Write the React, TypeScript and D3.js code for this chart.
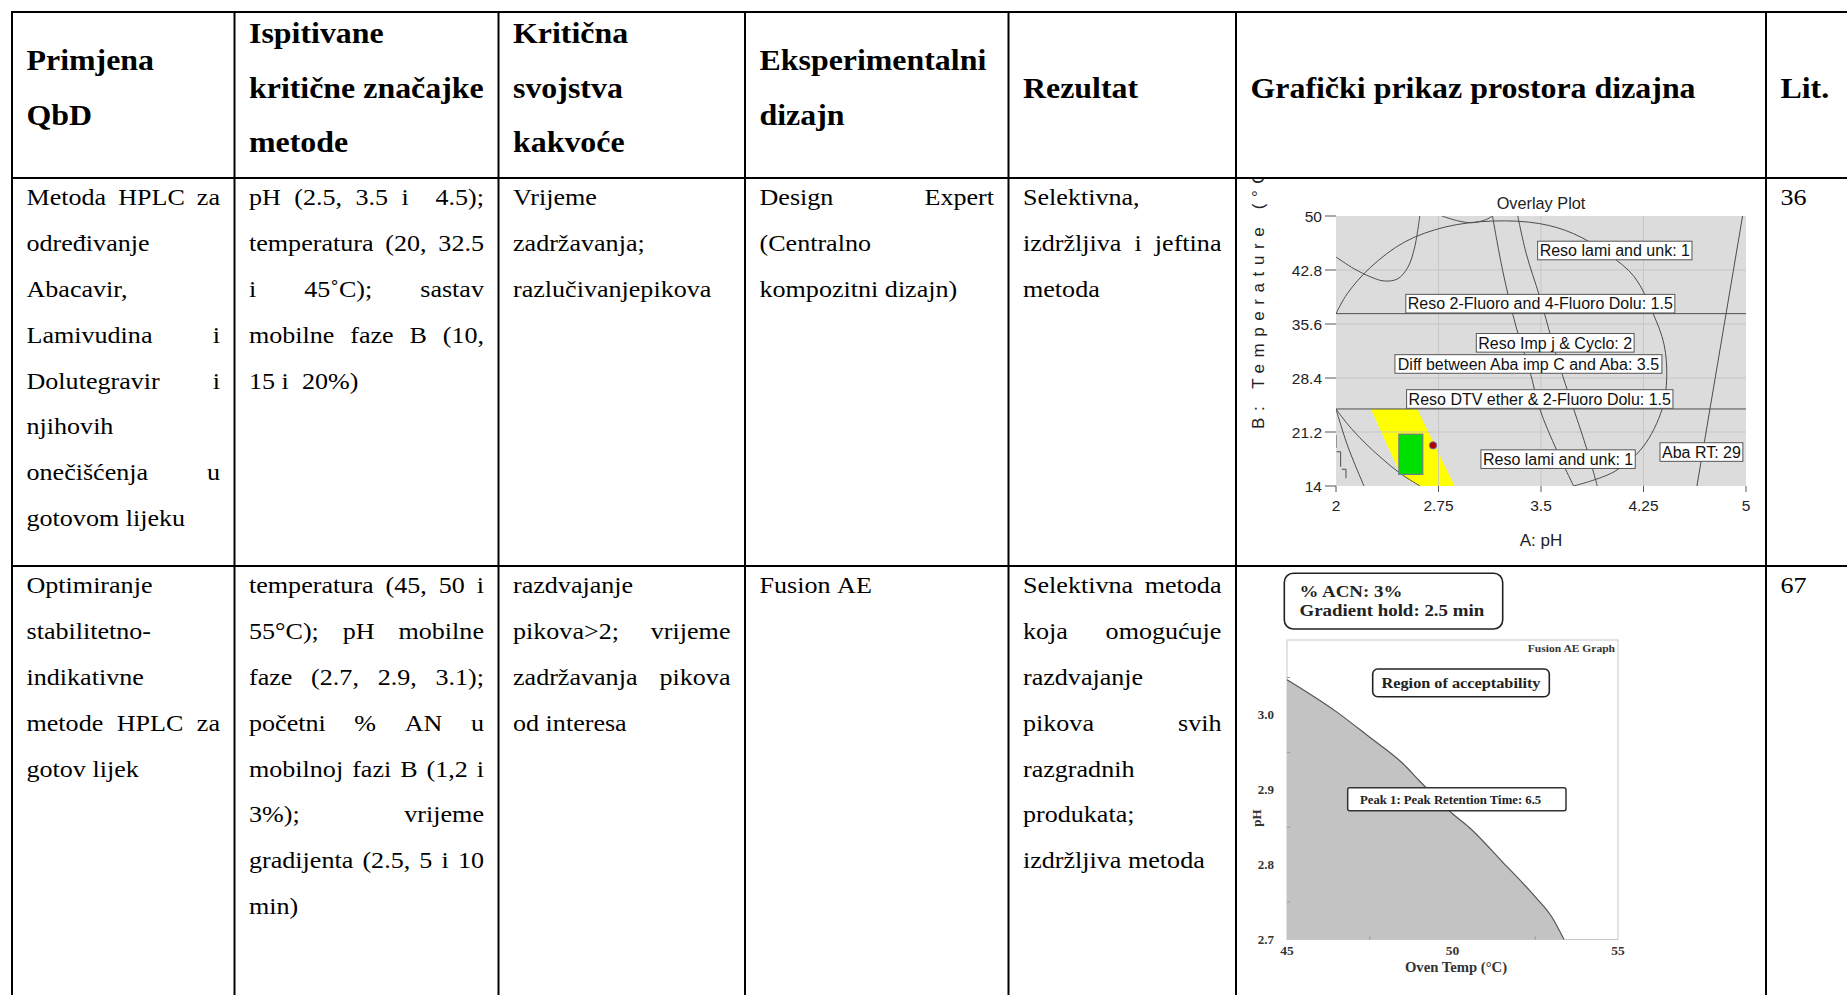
import React from "react";
import * as d3 from "d3";

const W = 1847;
const H = 995;

// ---- table layout ----
const colEdges = [12, 234.5, 498.5, 745, 1008.5, 1236, 1766];
const rowEdges = [12, 178, 566];

const headers = [
  ["Primjena", "QbD"],
  ["Ispitivane", "kritične značajke", "metode"],
  ["Kritična", "svojstva", "kakvoće"],
  ["Eksperimentalni", "dizajn"],
  ["Rezultat"],
  ["Grafički prikaz prostora dizajna"],
  ["Lit."],
];

const row1 = [
  ["Metoda HPLC za", "određivanje", "Abacavir,", "Lamivudina i", "Dolutegravir i", "njihovih", "onečišćenja u", "gotovom lijeku"],
  ["pH (2.5, 3.5 i  4.5);", "temperatura (20, 32.5", "i 45˚C); sastav", "mobilne faze B (10,", "15 i  20%)"],
  ["Vrijeme", "zadržavanja;", "razlučivanjepikova"],
  ["Design Expert", "(Centralno", "kompozitni dizajn)"],
  ["Selektivna,", "izdržljiva i jeftina", "metoda"],
  [],
  ["36"],
];

const row2 = [
  ["Optimiranje", "stabilitetno-", "indikativne", "metode HPLC za", "gotov lijek"],
  ["temperatura (45, 50 i", "55°C); pH mobilne", "faze (2.7, 2.9, 3.1);", "početni % AN u", "mobilnoj fazi B (1,2 i", "3%); vrijeme", "gradijenta (2.5, 5 i 10", "min)"],
  ["razdvajanje", "pikova>2; vrijeme", "zadržavanja pikova", "od interesa"],
  ["Fusion AE"],
  ["Selektivna metoda", "koja omogućuje", "razdvajanje", "pikova svih", "razgradnih", "produkata;", "izdržljiva metoda"],
  [],
  ["67"],
];

// ---- overlay plot (pH vs temperature) ----
const phTicks = [2, 2.75, 3.5, 4.25, 5];
const tempTicks = [14, 21.2, 28.4, 35.6, 42.8, 50];
const ellipse = [[2.0, 36.98], [2.082, 39.64], [2.255, 43.2], [2.502, 46.53], [2.799, 48.53], [3.145, 49.33], [3.491, 48.98], [3.739, 47.64], [3.986, 44.98], [4.184, 41.87], [4.32, 37.0], [4.40, 32.9], [4.42, 28.5], [4.387, 24.3], [4.246, 19.2], [4.035, 15.9], [3.739, 14.0]];
const uCurve = [[2.0, 44.53], [2.131, 42.98], [2.255, 41.87], [2.354, 41.33], [2.453, 41.64], [2.527, 43.2], [2.576, 45.87], [2.613, 50]];
const topArc = [[2.774, 50], [2.898, 49.33], [2.997, 49.11], [3.096, 49.51], [3.145, 50]];
const lineA = [[3.145, 50], [3.219, 42.76], [3.318, 35.2], [3.417, 29.42], [3.491, 24.27], [3.615, 18.76], [3.739, 14.0]];
const lineB = [[3.33, 50], [3.392, 44.98], [3.491, 39.2], [3.615, 31.2], [3.739, 24.27], [3.838, 18.76], [3.912, 14.0]];
const rightLine = [[4.975, 50], [4.641, 14.0]];
const lowCurve1 = [[2.0, 24.27], [2.082, 22.31], [2.205, 19.87], [2.329, 17.78], [2.468, 15.7], [2.615, 14.0]];
const lowCurve2 = [[2.0, 24.27], [2.024, 22.8], [2.082, 19.5], [2.14, 16.8], [2.205, 14.0]];
const steps = [[[2.0, 20.8], [2.0, 19.07]], [[2.004, 18.57], [2.034, 18.57], [2.034, 16.57]], [[2.042, 16.23], [2.073, 16.23], [2.073, 15.03]]];
const flatLines = [36.98, 24.27];
const yellowZone = [[2.255, 24.27], [2.594, 24.27], [2.868, 14.0], [2.615, 14.0], [2.54, 14.75], [2.468, 15.7]];
const greenBox = { ph: [2.46, 2.635], t: [15.55, 20.9] };
const redPoint = [2.71, 19.42];
const overlayLabels = [
  { text: "Reso lami and unk: 1", ph: 4.04, t: 45.4 },
  { text: "Reso 2-Fluoro and 4-Fluoro Dolu: 1.5", ph: 3.495, t: 38.31 },
  { text: "Reso Imp j & Cyclo: 2", ph: 3.604, t: 33.09 },
  { text: "Diff between Aba imp C and Aba: 3.5", ph: 3.408, t: 30.27 },
  { text: "Reso DTV ether & 2-Fluoro Dolu: 1.5", ph: 3.491, t: 25.6 },
  { text: "Reso lami and unk: 1", ph: 3.625, t: 17.58 },
  { text: "Aba RT: 29", ph: 4.674, t: 18.53 },
];

// ---- fusion AE graph (oven temp vs pH) ----
const ovenTemp = [45, 46.5, 47.5, 48.5, 49, 50, 50.5, 51.5, 52.5, 53, 53.37];
const phLimit = [3.047, 3.004, 2.97, 2.935, 2.912, 2.868, 2.85, 2.804, 2.757, 2.73, 2.7];
const tempTicks2 = [45, 50, 55];
const tempMinor2 = [47.5, 52.5];
const phTicks2 = [2.7, 2.8, 2.9, 3.0];
const phMinor2 = [2.75, 2.85, 2.95, 3.05];

const SERIF = '"Liberation Serif", "Times New Roman", serif';
const SANS = '"Liberation Sans", Arial, sans-serif';
const BODY_FS = 23.5, BODY_SX = 1.11, BODY_LH = 45.8;
const HEAD_FS = 29, HEAD_SX = 1.1, HEAD_LH = 54.5;
const PAD_L = 14.5, PAD_R = 14.5;

let ctx = null;
function measure(s, font) {
  if (!ctx) ctx = document.createElement("canvas").getContext("2d");
  ctx.font = font;
  return ctx.measureText(s).width;
}

function Para({ lines, x0, x1, y, lh, fs, sx, bold, justify }) {
  const font = `${bold ? "bold " : ""}${fs}px ${SERIF}`;
  const space = measure(" ", font) * sx;
  const out = [];
  lines.forEach((ln, i) => {
    const toks = ln.split(" ");
    const ws = toks.map(t => (t ? measure(t, font) * sx : 0));
    const nWords = toks.filter(t => t).length;
    let gap = space;
    if (justify && i < lines.length - 1 && nWords > 1) {
      gap = Math.max(space * 0.5, (x1 - x0 - d3.sum(ws)) / (toks.length - 1));
    }
    let x = x0;
    toks.forEach((t, k) => {
      if (t) {
        out.push(
          <text key={i + "_" + k} transform={`translate(${x},${y + i * lh}) scale(${sx},1)`}
            fontFamily={SERIF} fontSize={fs} fontWeight={bold ? "bold" : "normal"} fill="#000">{t}</text>
        );
      }
      x += ws[k] + gap;
    });
  });
  return <g>{out}</g>;
}

function OverlayPlot() {
  const x = d3.scaleLinear().domain([2, 5]).range([1336, 1746]);
  const y = d3.scaleLinear().domain([14, 50]).range([486, 216]);
  const smooth = d3.line().x(d => x(d[0])).y(d => y(d[1])).curve(d3.curveCatmullRom);
  const straight = d3.line().x(d => x(d[0])).y(d => y(d[1]));
  const contours = [ellipse, uCurve, topArc, lineA, lineB, lowCurve1, lowCurve2];
  const lfont = `16px ${SANS}`;
  return (
    <g clipPath="url(#cell1)">
      <text x={x(3.5)} y={209} textAnchor="middle" fontFamily={SANS} fontSize={16.3} fill="#222">Overlay Plot</text>
      <rect x={x(2)} y={y(50)} width={x(5) - x(2)} height={y(14) - y(50)} fill="#dcdcdc" />
      <path d={straight(yellowZone) + "Z"} fill="#ffff00" />
      <g stroke="#c2c2c2" strokeWidth={1} opacity={0.8}>
        {phTicks.slice(1, -1).map(v => <line key={v} x1={x(v)} x2={x(v)} y1={y(14)} y2={y(50)} />)}
        {tempTicks.slice(1, -1).map(v => <line key={v} x1={x(2)} x2={x(5)} y1={y(v)} y2={y(v)} />)}
      </g>
      <g clipPath="url(#plot1)" fill="none" stroke="#4d4d4d" strokeWidth={1}>
        {contours.map((c, i) => <path key={i} d={smooth(c)} />)}
        <path d={straight(rightLine)} />
        {steps.map((s, i) => <path key={"s" + i} d={straight(s)} />)}
        {flatLines.map(v => <line key={v} x1={x(2)} x2={x(5)} y1={y(v)} y2={y(v)} />)}
      </g>
      <rect x={x(greenBox.ph[0])} y={y(greenBox.t[1])} width={x(greenBox.ph[1]) - x(greenBox.ph[0])}
        height={y(greenBox.t[0]) - y(greenBox.t[1])} fill="#00e000" stroke="#6a7a8a" strokeWidth={1.2} />
      <circle cx={x(redPoint[0])} cy={y(redPoint[1])} r={3.6} fill="#b00000" stroke="#6a6a9a" strokeWidth={1} />
      {overlayLabels.map((l, i) => {
        const w = measure(l.text, lfont) + 4;
        return (
          <g key={i}>
            <rect x={x(l.ph) - w / 2} y={y(l.t) - 9.3} width={w} height={18.6} fill="#fff" stroke="#555" strokeWidth={1} />
            <text x={x(l.ph)} y={y(l.t) + 5.8} textAnchor="middle" fontFamily={SANS} fontSize={16} fill="#111">{l.text}</text>
          </g>
        );
      })}
      <g stroke="#555" strokeWidth={1}>
        {tempTicks.map(v => <line key={v} x1={x(2) - 11} x2={x(2)} y1={y(v)} y2={y(v)} />)}
        {phTicks.map(v => <line key={v} x1={x(v)} x2={x(v)} y1={y(14)} y2={y(14) + 6} />)}
      </g>
      {tempTicks.map(v => (
        <text key={v} x={x(2) - 14} y={y(v) + 5.5} textAnchor="end" fontFamily={SANS} fontSize={15.5} fill="#222">{v}</text>
      ))}
      {phTicks.map(v => (
        <text key={v} x={x(v)} y={511} textAnchor="middle" fontFamily={SANS} fontSize={15.5} fill="#222">{v}</text>
      ))}
      <text x={x(3.5)} y={546} textAnchor="middle" fontFamily={SANS} fontSize={17} fill="#222">A: pH</text>
      <text transform="translate(1264,429) rotate(-90)" fontFamily={SANS} fontSize={17} letterSpacing={6.6} fill="#222">B: Temperature (°C)</text>
    </g>
  );
}

function FusionPlot() {
  const x = d3.scaleLinear().domain([45, 55]).range([1287, 1618]);
  const y = d3.scaleLinear().domain([2.7, 3.1]).range([939.5, 640]);
  const pts = ovenTemp.map((t, i) => [t, phLimit[i]]);
  const area = d3.area().x(d => x(d[0])).y0(y(2.7)).y1(d => y(d[1])).curve(d3.curveMonotoneX);
  const edge = d3.line().x(d => x(d[0])).y(d => y(d[1])).curve(d3.curveMonotoneX);
  const bf = SERIF;
  return (
    <g>
      <rect x={1284.3} y={573.3} width={218.4} height={55.7} rx={9} fill="#fff" stroke="#222" strokeWidth={1.6} />
      <text transform="translate(1299.5,597) scale(1.08,1)" fontFamily={bf} fontWeight="bold" fontSize={17.5} fill="#222">% ACN: 3%</text>
      <text transform="translate(1299.5,616) scale(1.08,1)" fontFamily={bf} fontWeight="bold" fontSize={17.5} fill="#222">Gradient hold: 2.5 min</text>
      <rect x={x(45)} y={y(3.1)} width={x(55) - x(45)} height={y(2.7) - y(3.1)} fill="#fff" stroke="#c8c8c8" strokeWidth={1} />
      <path d={area(pts)} fill="#c3c3c3" />
      <path d={edge(pts)} fill="none" stroke="#555" strokeWidth={1.2} />
      <g stroke="#999" strokeWidth={1}>
        {tempMinor2.map(v => <line key={v} x1={x(v)} x2={x(v)} y1={y(2.7)} y2={y(2.7) - 3} />)}
        {phMinor2.map(v => <line key={v} x1={x(45)} x2={x(45) + 3} y1={y(v)} y2={y(v)} />)}
      </g>
      <text transform={`translate(${x(55) - 3},652) scale(1.05,1)`} textAnchor="end" fontFamily={bf} fontWeight="bold" fontSize={11} fill="#333">Fusion AE Graph</text>
      <rect x={1372.7} y={669} width={176.6} height={27.7} rx={5} fill="#fff" stroke="#222" strokeWidth={1.6} />
      <text transform="translate(1461,688) scale(1.05,1)" textAnchor="middle" fontFamily={bf} fontWeight="bold" fontSize={15.5} fill="#222">Region of acceptability</text>
      <rect x={1347.7} y={787.7} width={218.3} height={23} rx={2} fill="#fff" stroke="#333" strokeWidth={1.5} />
      <text transform="translate(1360,803.5) scale(1.08,1)" fontFamily={bf} fontWeight="bold" fontSize={11.8} fill="#222">Peak 1: Peak Retention Time: 6.5</text>
      {phTicks2.map(v => (
        <text key={v} x={x(45) - 13} y={y(v) + 4.5} textAnchor="end" fontFamily={bf} fontWeight="bold" fontSize={13} fill="#333">{v.toFixed(1)}</text>
      ))}
      {tempTicks2.map(v => (
        <text key={v} x={x(v)} y={955} textAnchor="middle" fontFamily={bf} fontWeight="bold" fontSize={13.5} fill="#333">{v}</text>
      ))}
      <text transform="translate(1456,972) scale(1.05,1)" textAnchor="middle" fontFamily={bf} fontWeight="bold" fontSize={14} fill="#333">Oven Temp (°C)</text>
      <text transform="translate(1261,818) rotate(-90)" textAnchor="middle" fontFamily={bf} fontWeight="bold" fontSize={13} fill="#333">pH</text>
    </g>
  );
}

export default function App() {
  const headBase = 97.7;
  return (
    <svg width={W} height={H} style={{ position: "absolute", left: 0, top: 0, background: "#fff" }}>
      <defs>
        <clipPath id="cell1"><rect x={1237} y={179} width={528} height={386} /></clipPath>
        <clipPath id="plot1"><rect x={1336} y={216} width={410} height={270} /></clipPath>
      </defs>
      <rect width={W} height={H} fill="#fff" />

      {headers.map((h, i) => (
        <Para key={"h" + i} lines={h} x0={colEdges[i] + PAD_L} x1={(colEdges[i + 1] ?? W) - PAD_R}
          y={headBase - ((h.length - 1) * HEAD_LH) / 2} lh={HEAD_LH} fs={HEAD_FS} sx={HEAD_SX} bold justify={false} />
      ))}
      {row1.map((c, i) => (
        <Para key={"a" + i} lines={c} x0={colEdges[i] + PAD_L} x1={(colEdges[i + 1] ?? W) - PAD_R}
          y={205.3} lh={BODY_LH} fs={BODY_FS} sx={BODY_SX} justify />
      ))}
      {row2.map((c, i) => (
        <Para key={"b" + i} lines={c} x0={colEdges[i] + PAD_L} x1={(colEdges[i + 1] ?? W) - PAD_R}
          y={593.3} lh={BODY_LH} fs={BODY_FS} sx={BODY_SX} justify />
      ))}

      <OverlayPlot />
      <FusionPlot />

      <g stroke="#000" strokeWidth={2}>
        {rowEdges.map(v => <line key={v} x1={colEdges[0] - 1} x2={W} y1={v} y2={v} />)}
        {colEdges.map(v => <line key={v} x1={v} x2={v} y1={rowEdges[0] - 1} y2={H} />)}
      </g>
    </svg>
  );
}
